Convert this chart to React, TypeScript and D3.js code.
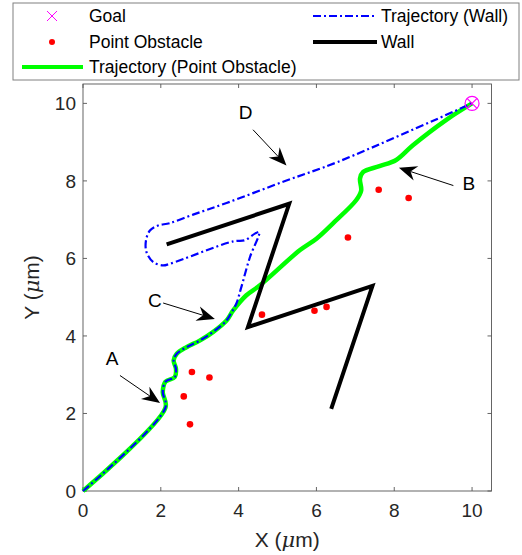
import React from "react";
import * as d3 from "d3";

// trajectory avoiding the point obstacles (x, y in µm)
const trajPoint: [number, number][] = [
  [0, 0], [2.12, 2.15], [2.05, 2.55], [2.12, 2.82], [2.36, 2.94], [2.39, 3.15],
  [2.33, 3.37], [2.41, 3.54], [2.66, 3.71], [3.0, 3.88], [3.34, 4.1], [3.69, 4.4],
  [3.86, 4.66], [4.2, 5.05], [4.54, 5.3], [5.57, 6.21], [6.0, 6.51], [6.42, 6.9],
  [7.02, 7.5], [7.15, 7.75], [7.12, 8.06], [7.2, 8.23], [7.62, 8.38], [8.05, 8.54],
  [8.48, 8.92], [9.33, 9.57], [10, 10],
];

// trajectory avoiding the wall
const trajWall: [number, number][] = [
  [0, 0], [2.12, 2.15], [2.05, 2.55], [2.12, 2.82], [2.36, 2.94], [2.39, 3.15],
  [2.33, 3.37], [2.41, 3.54], [2.66, 3.71], [3.0, 3.88], [3.34, 4.1], [3.69, 4.4],
  [3.82, 4.61], [3.94, 4.83], [4.07, 5.26], [4.29, 6.03], [4.53, 6.68],
  [4.42, 6.64], [4.16, 6.47], [3.86, 6.44], [2.23, 5.86], [2.06, 5.82],
  [1.8, 5.91], [1.63, 6.17], [1.62, 6.47], [1.72, 6.72], [1.93, 6.85],
  [2.23, 6.91], [2.83, 7.13], [3.69, 7.43], [5.23, 8.01], [6.55, 8.49], [10, 10],
];

const wall: [number, number][] = [
  [2.15, 6.36], [5.3, 7.41], [4.24, 4.23], [7.44, 5.29], [6.38, 2.12],
];

const obstacles: [number, number][] = [
  [2.8, 3.07], [3.25, 2.93], [2.59, 2.44], [2.75, 1.72], [4.6, 4.55],
  [5.95, 4.65], [6.26, 4.75], [6.81, 6.54], [7.6, 7.77], [8.37, 7.56],
];

const goal: [number, number] = [10, 10];

// label, label pos, arrow tail, arrow tip
const notes: { label: string; at: [number, number]; from: [number, number]; to: [number, number] }[] = [
  { label: "A", at: [0.75, 3.42], from: [0.95, 2.98], to: [1.98, 2.27] },
  { label: "B", at: [9.92, 7.94], from: [9.52, 7.88], to: [8.12, 8.34] },
  { label: "C", at: [1.85, 4.92], from: [2.06, 4.85], to: [3.39, 4.44] },
  { label: "D", at: [4.18, 9.78], from: [4.37, 9.32], to: [5.23, 8.4] },
];

const ticks = [0, 2, 4, 6, 8, 10];

const W = 522;
const H = 555;
const box = { left: 83, right: 491.5, top: 84, bottom: 491 };
const font = "'Liberation Sans', Arial, Helvetica, sans-serif";
const axisCol = "#262626";
const dashDot = "8,3,2,3";

export default function App() {
  const x = d3.scaleLinear().domain([0, 10.5]).range([box.left, box.right]);
  const y = d3.scaleLinear().domain([0, 10.5]).range([box.bottom, box.top]);

  const smooth = d3
    .line<[number, number]>()
    .x((d) => x(d[0]))
    .y((d) => y(d[1]))
    .curve(d3.curveCatmullRom.alpha(0.5));
  const straight = d3
    .line<[number, number]>()
    .x((d) => x(d[0]))
    .y((d) => y(d[1]));

  const arrow = (n: (typeof notes)[number]) => {
    const x1 = x(n.from[0]), y1 = y(n.from[1]);
    const x2 = x(n.to[0]), y2 = y(n.to[1]);
    const ang = Math.atan2(y2 - y1, x2 - x1);
    const L = 18, Wd = 15;
    const pt = (a: number, b: number) => {
      // a along the arrow (back from tip), b across
      const px = x2 - a * Math.cos(ang) - b * Math.sin(ang);
      const py = y2 - a * Math.sin(ang) + b * Math.cos(ang);
      return `${px},${py}`;
    };
    const notch = L * 0.68;
    return (
      <g key={n.label}>
        <line
          x1={x1} y1={y1}
          x2={x2 - notch * Math.cos(ang)} y2={y2 - notch * Math.sin(ang)}
          stroke="#000" strokeWidth={1}
        />
        <polygon
          points={[pt(0, 0), pt(L, Wd / 2), pt(notch, 0), pt(L, -Wd / 2)].join(" ")}
          fill="#000"
        />
        <text
          x={x(n.at[0])} y={y(n.at[1]) + 7}
          fontSize={19} textAnchor="middle" fill="#000" fontFamily={font}
        >
          {n.label}
        </text>
      </g>
    );
  };

  return (
    <svg
      width={W} height={H}
      style={{ position: "absolute", left: 0, top: 0, background: "#fff" }}
    >
      {/* legend */}
      <rect x={13} y={3} width={506} height={77} fill="#fff" stroke="#808080" strokeWidth={1} />
      <g fontFamily={font} fontSize={17.5} fill="#000">
        <path d="M47,11 L57,21 M57,11 L47,21" stroke="#ff00ff" strokeWidth={1} />
        <text x={89} y={22}>Goal</text>
        <circle cx={52} cy={42} r={3} fill="#ff0000" />
        <text x={89} y={48}>Point Obstacle</text>
        <line x1={22} x2={83} y1={67} y2={67} stroke="#00ff00" strokeWidth={4} />
        <text x={89} y={73}>Trajectory (Point Obstacle)</text>
        <line x1={313} x2={377} y1={16} y2={16} stroke="#0000ff" strokeWidth={2} strokeDasharray={dashDot} />
        <text x={381} y={22}>Trajectory (Wall)</text>
        <line x1={313} x2={377} y1={42} y2={42} stroke="#000" strokeWidth={4} />
        <text x={381} y={48}>Wall</text>
      </g>

      {/* axes box and ticks */}
      <rect
        x={box.left} y={box.top}
        width={box.right - box.left} height={box.bottom - box.top}
        fill="none" stroke="#555" strokeWidth={0.9}
      />
      {ticks.map((t) => (
        <g key={t} stroke="#555" strokeWidth={0.9}>
          <line x1={x(t)} x2={x(t)} y1={box.bottom} y2={box.bottom - 4} />
          <line x1={x(t)} x2={x(t)} y1={box.top} y2={box.top + 4} />
          <line y1={y(t)} y2={y(t)} x1={box.left} x2={box.left + 4} />
          <line y1={y(t)} y2={y(t)} x1={box.right} x2={box.right - 4} />
        </g>
      ))}
      <g fontFamily={font} fontSize={19} fill={axisCol}>
        {ticks.map((t) => (
          <text key={"x" + t} x={x(t)} y={517} textAnchor="middle">{t}</text>
        ))}
        {ticks.map((t) => (
          <text key={"y" + t} x={76} y={y(t) + 7} textAnchor="end">{t}</text>
        ))}
      </g>
      <text x={(box.left + box.right) / 2} y={547} textAnchor="middle" fontFamily={font} fontSize={21} fill={axisCol}>
        X (<tspan fontStyle="italic" fontFamily="'DejaVu Serif', serif">μ</tspan>m)
      </text>
      <text
        transform={`translate(39,${(box.top + box.bottom) / 2}) rotate(-90)`}
        textAnchor="middle" fontFamily={font} fontSize={21} fill={axisCol}
      >
        Y (<tspan fontStyle="italic" fontFamily="'DejaVu Serif', serif">μ</tspan>m)
      </text>

      {/* data */}
      <path d={smooth(trajPoint) ?? ""} fill="none" stroke="#00ff00" strokeWidth={4.5} strokeLinejoin="round" />
      <path d={straight(wall) ?? ""} fill="none" stroke="#000" strokeWidth={4} strokeLinejoin="miter" />
      <path
        d={smooth(trajWall) ?? ""} fill="none" stroke="#0000ff" strokeWidth={2.2}
        strokeDasharray={dashDot}
      />
      {obstacles.map((d, i) => (
        <circle key={i} cx={x(d[0])} cy={y(d[1])} r={3.3} fill="#ff0000" />
      ))}
      <g stroke="#ff00ff" strokeWidth={1.2} fill="none">
        <circle cx={x(goal[0])} cy={y(goal[1])} r={7} />
        <path
          d={`M${x(goal[0]) - 5},${y(goal[1]) - 5} L${x(goal[0]) + 5},${y(goal[1]) + 5} M${x(goal[0]) + 5},${y(goal[1]) - 5} L${x(goal[0]) - 5},${y(goal[1]) + 5}`}
        />
      </g>

      {notes.map(arrow)}
    </svg>
  );
}
